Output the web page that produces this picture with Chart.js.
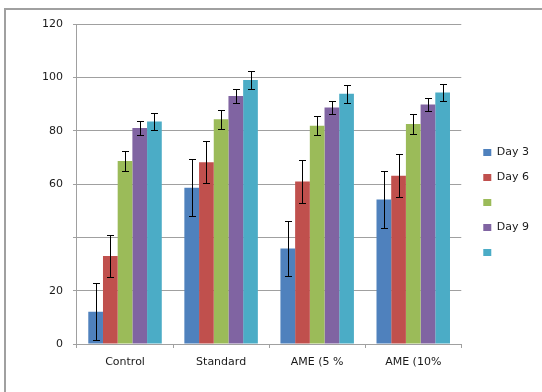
<!DOCTYPE html>
<html>
<head>
<meta charset="utf-8">
<script src="https://cdn.jsdelivr.net/npm/chart.js@4.4.0/dist/chart.umd.min.js"></script>
<style>
  body { margin: 0; background: #fff; overflow: hidden; }
  #wrap { position: relative; width: 542px; height: 392px; }
  #frame { position: absolute; left: 4px; top: 8px; right: 0; bottom: 0; border-left: 2px solid #a0a0a0; border-top: 2px solid #a0a0a0; pointer-events: none; }
</style>
</head>
<body>
<div id="wrap">
  <canvas id="mycanvas" width="542" height="392"></canvas>
  <div id="frame"></div>
</div>
<script>
var groups = ['Control', 'Standard', 'AME (5 %', 'AME (10%'];
var seriesNames = ['Day 3', 'Day 6', '', 'Day 9', ''];
var colors = ['#4f81bd', '#c0504d', '#9bbb59', '#8064a2', '#4bacc6'];

var day3 = [12.1, 58.6, 35.8, 54.2];
var day6 = [33.0, 68.2, 60.9, 63.1];
var dayGreen = [68.6, 84.3, 81.8, 82.5];
var day9 = [81.0, 93.0, 88.7, 89.8];
var dayCyan = [83.4, 99.0, 93.8, 94.3];

var day3Err = [10.7, 10.6, 10.4, 10.6];
var day6Err = [8.0, 8.0, 8.0, 8.0];
var dayGreenErr = [3.7, 3.6, 3.6, 3.6];
var day9Err = [2.7, 2.6, 2.6, 2.6];
var dayCyanErr = [3.2, 3.5, 3.4, 3.2];

var yTickLabels = ['0', '20', '', '60', '80', '100', '120'];

var values = [day3, day6, dayGreen, day9, dayCyan];
var errors = [day3Err, day6Err, dayGreenErr, day9Err, dayCyanErr];

var datasets = [];
for (var i in values) {
  datasets.push({
    label: seriesNames[i],
    data: values[i],
    errors: errors[i],
    backgroundColor: colors[i],
    borderWidth: 0,
    categoryPercentage: 0.765,
    barPercentage: 1.0
  });
}

// draws the black error bars on top of each bar
var errorBars = {
  id: 'errorBars',
  afterDatasetsDraw: function(chart) {
    var ctx = chart.ctx;
    var yAxis = chart.scales.y;
    ctx.save();
    ctx.strokeStyle = '#000';
    ctx.lineWidth = 1;
    chart.data.datasets.forEach(function(ds, i) {
      var meta = chart.getDatasetMeta(i);
      meta.data.forEach(function(bar, j) {
        var x = Math.round(bar.x) + 0.5;
        var top = Math.round(yAxis.getPixelForValue(ds.data[j] + ds.errors[j])) + 0.5;
        var bottom = Math.round(yAxis.getPixelForValue(ds.data[j] - ds.errors[j])) + 0.5;
        ctx.beginPath();
        ctx.moveTo(x, top);
        ctx.lineTo(x, bottom);
        ctx.moveTo(x - 3.5, top);
        ctx.lineTo(x + 3.5, top);
        ctx.moveTo(x - 3.5, bottom);
        ctx.lineTo(x + 3.5, bottom);
        ctx.stroke();
      });
    });
    ctx.restore();
  }
};

Chart.defaults.font.family = '"DejaVu Sans", Verdana, sans-serif';
Chart.defaults.font.size = 11;
Chart.defaults.color = '#1a1a1a';

var ctx = document.getElementById('mycanvas');

var barGraph = new Chart(ctx, {
  type: 'bar',
  data: {
    labels: groups,
    datasets: datasets
  },
  options: {
    responsive: false,
    animation: false,
    layout: {
      padding: { left: 32, right: 3, top: 24, bottom: 11 }
    },
    plugins: {
      tooltip: { enabled: false },
      legend: {
        position: 'right',
        labels: {
          boxWidth: 8,
          boxHeight: 7,
          padding: 14,
          color: '#1a1a1a'
        }
      }
    },
    scales: {
      x: {
        grid: {
          display: true,
          drawOnChartArea: false,
          drawTicks: true,
          tickLength: 4,
          color: '#a0a0a0'
        },
        border: { color: '#a0a0a0' },
        ticks: { padding: 8, maxRotation: 0 },
        afterFit: function(scale) { scale.height = 37; }
      },
      y: {
        min: 0,
        max: 120,
        grid: {
          color: '#a0a0a0',
          tickLength: 4
        },
        border: { color: '#a0a0a0' },
        ticks: {
          stepSize: 20,
          padding: 10,
          callback: function(value, index) { return yTickLabels[index]; }
        }
      },
      gap: {
        type: 'linear',
        position: 'right',
        grid: { display: false },
        border: { display: false },
        ticks: { display: false },
        afterFit: function(scale) { scale.width = 8; }
      }
    }
  },
  plugins: [errorBars]
});
</script>
</body>
</html>
